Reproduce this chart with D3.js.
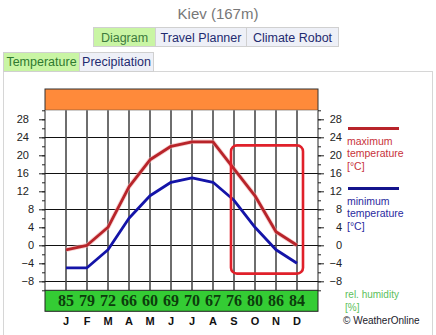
<!DOCTYPE html>
<html><head><meta charset="utf-8">
<script src="https://cdn.jsdelivr.net/npm/d3@7"></script>
<style>
html,body{margin:0;padding:0;background:#fff;}
svg{display:block;}
</style></head>
<body>
<svg id="c" width="436" height="335"></svg>
<script>
const months = ["J","F","M","A","M","J","J","A","S","O","N","D"];
const maxTemp = [-1, 0, 4, 13, 19, 22, 23, 23, 17, 11, 3, 0];
const minTemp = [-5, -5, -1, 6, 11, 14, 15, 14, 10, 4, -1, -4];
const humidity = [85, 79, 72, 66, 60, 69, 70, 67, 76, 80, 86, 84];
const majorTicks = [28, 24, 20, 16, 12, 8, 4, 0, -4, -8];
const gridValues = [24, 16, 8, 0, -8];
const legendMax = ["maximum", "temperature", "[°C]"];
const legendMin = ["minimum", "temperature", "[°C]"];
const humLegend = ["rel. humidity", "[%]"];
const tabs1 = ["Diagram", "Travel Planner", "Climate Robot"];
const tabs2 = ["Temperature", "Precipitation"];

const svg = d3.select("#c");
const L = 45, R = 318, T = 110.3, B = 290.3;
const x = d3.scaleLinear().domain([-1, 12]).range([L, R]);
const y = d3.scaleLinear().domain([-10, 30]).range([B, T]);
const F = "Arial, 'Liberation Sans', sans-serif";

// title
svg.append("text").attr("x", 218).attr("y", 19).attr("text-anchor", "middle")
  .attr("font-family", F).attr("font-size", 15).attr("fill", "#777").text("Kiev (167m)");

// tabs row 1
const t1 = [{x:93,w:62},{x:155,w:91},{x:246,w:92}];
tabs1.forEach((t,i)=>{
  const g = svg.append("g");
  g.append("rect").attr("x", t1[i].x+0.5).attr("y", 27.5).attr("width", t1[i].w).attr("height", 19)
    .attr("fill", i===0 ? "#c9f5a4" : "#eef0f7").attr("stroke", "#d0d0d0");
  g.append("text").attr("x", t1[i].x + t1[i].w/2 + 0.5).attr("y", 42).attr("text-anchor","middle")
    .attr("font-family", F).attr("font-size", 12.5).attr("fill", i===0 ? "#3d7a3d" : "#1f2b70").text(t);
});
// panel
svg.append("rect").attr("x", 3.5).attr("y", 71.5).attr("width", 429).attr("height", 270)
  .attr("fill", "none").attr("stroke", "#d6d6d6");
// tabs row 2
const t2 = [{x:3,w:76},{x:79,w:74}];
tabs2.forEach((t,i)=>{
  const g = svg.append("g");
  g.append("rect").attr("x", t2[i].x+0.5).attr("y", 52.5).attr("width", t2[i].w).attr("height", 19)
    .attr("fill", i===0 ? "#c9f5a4" : "#eef0f7").attr("stroke", "#d0d0d0");
  g.append("text").attr("x", t2[i].x + t2[i].w/2 + 0.5).attr("y", 66).attr("text-anchor","middle")
    .attr("font-family", F).attr("font-size", 12.5).attr("fill", i===0 ? "#2f7a2f" : "#1f2b70").text(t);
});

// orange band
svg.append("rect").attr("x", L).attr("y", 89).attr("width", R-L).attr("height", T-89)
  .attr("fill", "#ff8a3a").attr("stroke", "#333").attr("stroke-width", 1);

// plot background
svg.append("rect").attr("x", L).attr("y", T).attr("width", R-L).attr("height", B-T).attr("fill", "#fff");

// horizontal grid
svg.append("g").selectAll("line").data(gridValues).join("line")
  .attr("x1", L).attr("x2", R).attr("y1", d=>Math.round(y(d))+0.5).attr("y2", d=>Math.round(y(d))+0.5)
  .attr("stroke", "#111").attr("stroke-width", 1);
// vertical month lines
svg.append("g").selectAll("line").data(months).join("line")
  .attr("x1", (d,i)=>x(i)).attr("x2", (d,i)=>x(i)).attr("y1", T).attr("y2", B)
  .attr("stroke", "#4a4a4a").attr("stroke-width", 1.6);

// axes
const minor = d3.range(-10, 31, 2);
function styleAxis(g){ g.select(".domain").attr("stroke","#222"); g.selectAll("line").attr("stroke","#222"); }
svg.append("g").attr("transform", `translate(${L},0)`)
  .call(d3.axisLeft(y).tickValues(minor).tickSize(3).tickFormat(""))
  .call(styleAxis).call(g=>g.select(".domain").remove());
const la = svg.append("g").attr("transform", `translate(${L},0)`)
  .call(d3.axisLeft(y).tickValues(majorTicks).tickSize(6).tickSizeOuter(0))
  .call(styleAxis);
la.select(".domain").attr("d", `M0,${T}V${B}`);
la.selectAll("text").attr("font-family", F).attr("font-size", 11).attr("fill", "#222")
  .attr("x", d => (Math.abs(d) >= 10 ? -16 : -11));
svg.append("g").attr("transform", `translate(${R},0)`)
  .call(d3.axisRight(y).tickValues(minor).tickSize(3).tickFormat(""))
  .call(styleAxis).call(g=>g.select(".domain").remove());
const ra = svg.append("g").attr("transform", `translate(${R},0)`)
  .call(d3.axisRight(y).tickValues(majorTicks).tickSize(6).tickSizeOuter(0))
  .call(styleAxis);
ra.select(".domain").attr("d", `M0,${T}V${B}`);
ra.selectAll("text").attr("font-family", F).attr("font-size", 11).attr("fill", "#222")
  .attr("text-anchor", "end").attr("x", 24);

// lines
const line = d3.line().x((d,i)=>x(i)).y(d=>y(d));
svg.append("path").datum(maxTemp).attr("d", line).attr("fill","none")
  .attr("stroke", "#f2b0b0").attr("stroke-width", 4.5).attr("opacity", 0.6);
svg.append("path").datum(maxTemp).attr("d", line).attr("fill","none")
  .attr("stroke", "#b8242a").attr("stroke-width", 2.8).attr("stroke-linejoin","round");
svg.append("path").datum(minTemp).attr("d", line).attr("fill","none")
  .attr("stroke", "#1414a8").attr("stroke-width", 2.8).attr("stroke-linejoin","round");

// highlight box (Sep–Dec)
svg.append("rect").attr("x", x(8) - 3).attr("y", y(22.2)).attr("width", x(11) - x(8) + 9)
  .attr("height", y(-6.3) - y(22.2)).attr("rx", 6).attr("ry", 6)
  .attr("fill", "none").attr("stroke", "#e0202a").attr("stroke-width", 2.6);

// humidity band
svg.append("rect").attr("x", L).attr("y", B).attr("width", R-L).attr("height", 21)
  .attr("fill", "#34cc34").attr("stroke", "#222").attr("stroke-width", 1);
svg.append("g").selectAll("text").data(humidity).join("text")
  .attr("x", (d,i)=>x(i)).attr("y", B + 16).attr("text-anchor","middle")
  .attr("font-family", "'Liberation Serif', 'Times New Roman', serif").attr("font-weight","bold")
  .attr("font-size", 16).attr("fill", "#0c3d0c").text(d=>d);
// months
svg.append("g").selectAll("text").data(months).join("text")
  .attr("x", (d,i)=>x(i)).attr("y", 325).attr("text-anchor","middle")
  .attr("font-family", F).attr("font-weight","bold").attr("font-size", 11).attr("fill", "#111").text(d=>d);

// legend
svg.append("line").attr("x1", 348).attr("x2", 399).attr("y1", 128.5).attr("y2", 128.5)
  .attr("stroke", "#b8242a").attr("stroke-width", 3);
svg.append("g").selectAll("text").data(legendMax).join("text")
  .attr("x", 347).attr("y", (d,i)=>145 + i*12.3).attr("font-family", F).attr("font-size", 10.5)
  .attr("fill", "#c8323a").text(d=>d);
svg.append("line").attr("x1", 348).attr("x2", 399).attr("y1", 188.5).attr("y2", 188.5)
  .attr("stroke", "#14148c").attr("stroke-width", 3);
svg.append("g").selectAll("text").data(legendMin).join("text")
  .attr("x", 347).attr("y", (d,i)=>205 + i*12.3).attr("font-family", F).attr("font-size", 10.5)
  .attr("fill", "#2a2aa0").text(d=>d);
svg.append("g").selectAll("text").data(humLegend).join("text")
  .attr("x", 345).attr("y", (d,i)=>298 + i*13).attr("font-family", F).attr("font-size", 10)
  .attr("fill", "#5cbf5c").text(d=>d);
svg.append("text").attr("x", 343).attr("y", 324).attr("font-family", F).attr("font-size", 10)
  .attr("fill", "#1a1a2a").text("© WeatherOnline");
</script>
</body></html>
